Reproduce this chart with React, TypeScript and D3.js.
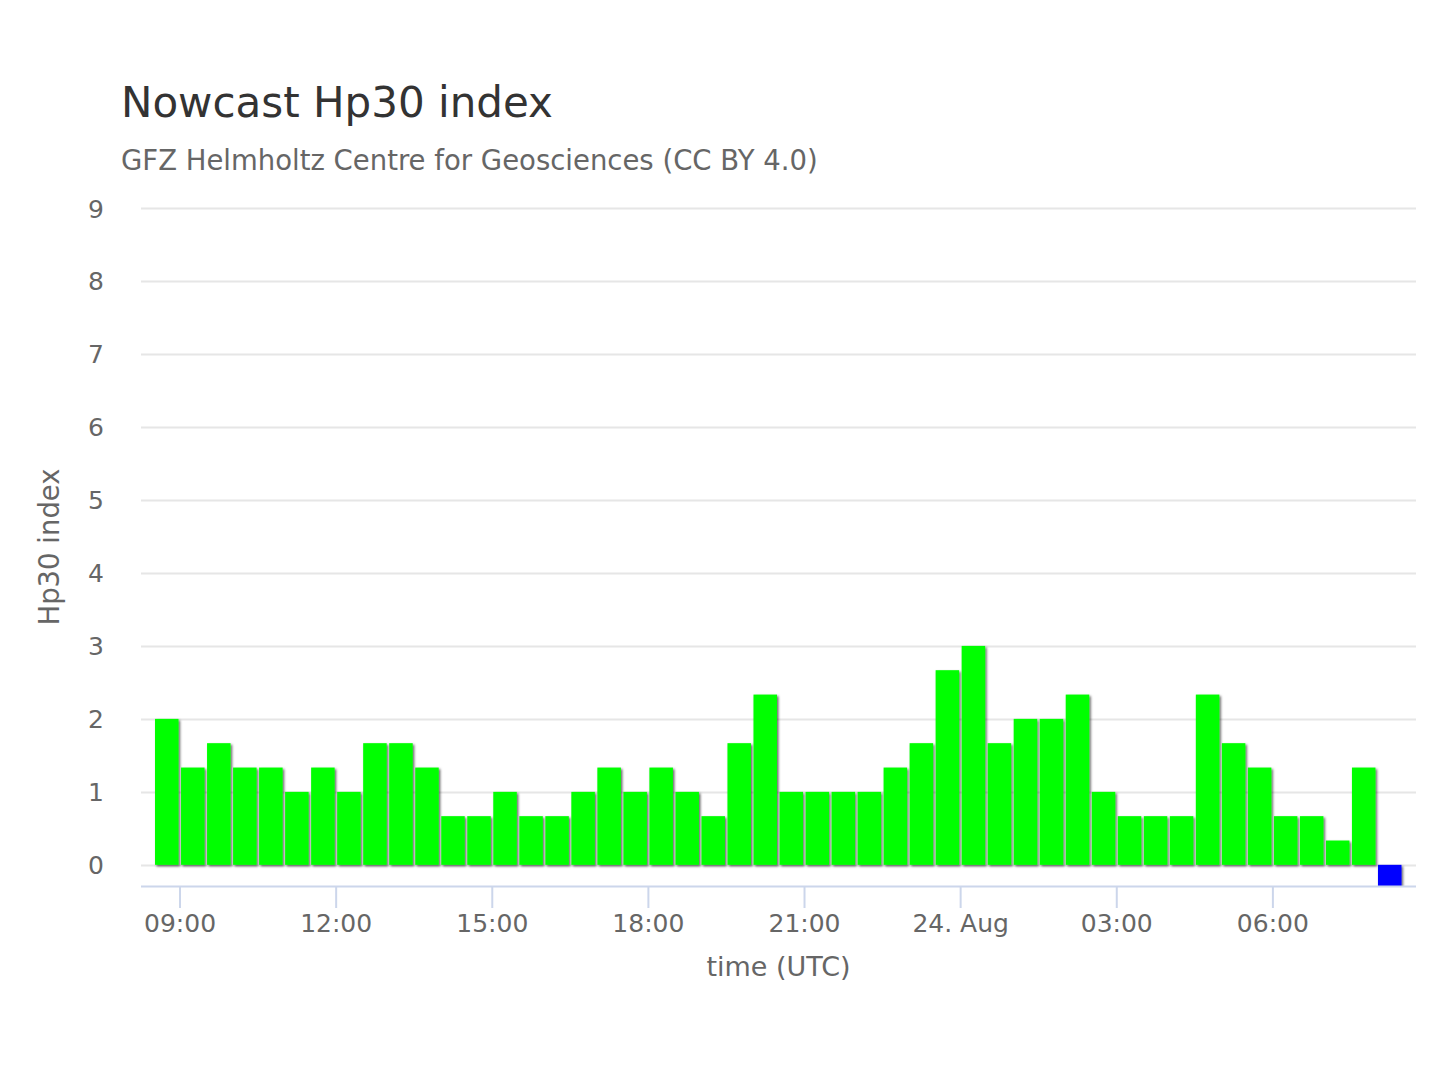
import * as d3 from "d3";

// Hp30 values, one per 30-minute slot, starting 23 Aug 08:30 UTC
const hp30Values = [
  2, 1.333, 1.667, 1.333, 1.333, 1, 1.333, 1, 1.667, 1.667, 1.333, 0.667,
  0.667, 1, 0.667, 0.667, 1, 1.333, 1, 1.333, 1, 0.667, 1.667, 2.333,
  1, 1, 1, 1, 1.333, 1.667, 2.667, 3, 1.667, 2, 2, 2.333,
  1, 0.667, 0.667, 0.667, 2.333, 1.667, 1.333, 0.667, 0.667, 0.333, 1.333, -1,
];
// last slot is the pending nowcast, drawn in blue below zero
const barColors = hp30Values.map((v) => (v < 0 ? "#0000ff" : "#00ff00"));
const seriesStart = new Date(Date.UTC(2023, 7, 23, 8, 30));
const slotMinutes = 30;
const yTicks = [0, 1, 2, 3, 4, 5, 6, 7, 8, 9];

const titleText = "Nowcast Hp30 index";
const subtitleText = "GFZ Helmholtz Centre for Geosciences (CC BY 4.0)";
const xTitle = "time (UTC)";
const yTitle = "Hp30 index";

const W = 1440;
const H = 1080;
const plot = { left: 141, right: 1416, top: 208, bottom: 886 };
const font = "'DejaVu Sans', Verdana, sans-serif";

export default function App() {
  const slotStart = (i: number) =>
    new Date(seriesStart.getTime() + i * slotMinutes * 60000);

  const x = d3
    .scaleUtc()
    .domain([new Date(Date.UTC(2023, 7, 23, 8, 15)), new Date(Date.UTC(2023, 7, 24, 8, 45))])
    .range([plot.left, plot.right]);

  const y = d3.scaleLinear().domain([-0.29, 9]).range([plot.bottom, plot.top]);

  const xTicks = x.ticks(d3.utcHour.every(3)!);
  const fmtTick = (d: Date) =>
    d.getUTCHours() === 0 ? d3.utcFormat("%d. %b")(d) : d3.utcFormat("%H:%M")(d);

  return (
    <div style={{ position: "absolute", left: 0, top: 0 }}>
      <svg width={W} height={H} style={{ display: "block", background: "#fff" }}>
        <defs>
          <clipPath id="plotClip">
            <rect x={plot.left} y={plot.top} width={plot.right - plot.left} height={plot.bottom - plot.top} />
          </clipPath>
          <filter id="barShadow" x="-20%" y="-20%" width="140%" height="140%">
            <feDropShadow dx={1.5} dy={1.5} stdDeviation={1} floodColor="#000" floodOpacity={0.6} />
          </filter>
        </defs>

        <text x={121} y={117} fontFamily={font} fontSize={42} fill="#333333">
          {titleText}
        </text>
        <text x={121} y={170} fontFamily={font} fontSize={27.5} fill="#666666">
          {subtitleText}
        </text>

        {/* grid + y labels */}
        {yTicks.map((t) => (
          <g key={t}>
            <line x1={plot.left} x2={plot.right} y1={Math.round(y(t)) + 0.5} y2={Math.round(y(t)) + 0.5} stroke="#e6e6e6" strokeWidth={2} />
            <text x={104} y={y(t) + 9.5} textAnchor="end" fontFamily={font} fontSize={25} fill="#666666">
              {t}
            </text>
          </g>
        ))}

        {/* bars */}
        <g clipPath="url(#plotClip)">
          {hp30Values.map((v, i) => {
            const x0 = x(slotStart(i));
            const x1 = x(slotStart(i + 1));
            const top = Math.min(y(v), y(0));
            const h = Math.abs(y(v) - y(0));
            return (
              <rect
                key={i}
                x={x0 + 1}
                y={top}
                width={x1 - x0 - 2.5}
                height={h}
                fill={barColors[i]}
                filter="url(#barShadow)"
              />
            );
          })}
        </g>

        {/* x axis */}
        <line x1={plot.left} x2={plot.right} y1={plot.bottom + 0.5} y2={plot.bottom + 0.5} stroke="#ccd6eb" strokeWidth={2} />
        {xTicks.map((t) => (
          <g key={t.getTime()}>
            <line x1={x(t)} x2={x(t)} y1={plot.bottom} y2={plot.bottom + 22} stroke="#ccd6eb" strokeWidth={2} />
            <text x={x(t)} y={932} textAnchor="middle" fontFamily={font} fontSize={25} fill="#666666">
              {fmtTick(t)}
            </text>
          </g>
        ))}

        <text x={(plot.left + plot.right) / 2} y={976} textAnchor="middle" fontFamily={font} fontSize={27} fill="#666666">
          {xTitle}
        </text>
        <text
          transform={`translate(59,${(plot.top + plot.bottom) / 2}) rotate(-90)`}
          textAnchor="middle"
          fontFamily={font}
          fontSize={27.5}
          fill="#666666"
        >
          {yTitle}
        </text>
      </svg>
    </div>
  );
}
